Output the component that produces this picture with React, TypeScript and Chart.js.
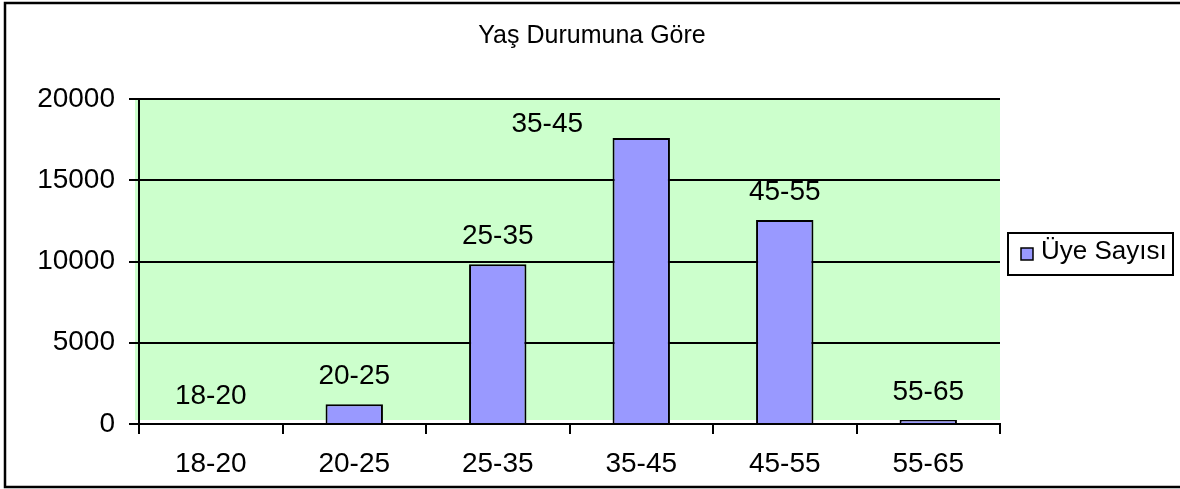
import React, { useEffect, useRef } from "react";
import { Chart, registerables } from "chart.js";

Chart.register(...registerables);

// ---- data ----
const chartTitle = "Yaş Durumuna Göre";
const seriesName = "Üye Sayısı";
const categories = ["18-20", "20-25", "25-35", "35-45", "45-55", "55-65"];
const memberCounts = [0, 1210, 9830, 17600, 12550, 250];
const yTickValues = [0, 5000, 10000, 15000, 20000];

// ---- styles ----
const FONT = "'Liberation Sans', Arial, sans-serif";
const BAR_COLOR = "#9999FF";
const PLOT_BG = "#CCFFCC";
const LABEL_NUDGE: Array<[number, number]> = [
  [0, 0],
  [0, 0],
  [0, 0],
  [-94, 14],
  [0, 0],
  [0, 0],
];

export default function App() {
  const canvasRef = useRef<HTMLCanvasElement | null>(null);

  useEffect(() => {
    const canvas = canvasRef.current;
    if (!canvas) return;

    const bgPlugin = {
      id: "plotBg",
      beforeDraw(chart: any) {
        const { ctx, chartArea: a } = chart;
        ctx.save();
        ctx.fillStyle = "#ffffff";
        ctx.fillRect(0, 0, chart.width, chart.height);
        ctx.fillStyle = PLOT_BG;
        ctx.fillRect(a.left - 4, a.top, a.right - a.left + 4, a.bottom - a.top - 4);
        ctx.restore();
      },
    };

    const overlayPlugin = {
      id: "overlay",
      afterDraw(chart: any) {
        const { ctx } = chart;
        ctx.save();
        // title
        ctx.fillStyle = "#000";
        ctx.font = `25px ${FONT}`;
        ctx.textAlign = "center";
        ctx.textBaseline = "alphabetic";
        ctx.fillText(chartTitle, 592, 43);

        // data labels (category names above bars)
        ctx.font = `28px ${FONT}`;
        const meta = chart.getDatasetMeta(0);
        meta.data.forEach((bar: any, i: number) => {
          const [dx, dy] = LABEL_NUDGE[i] || [0, 0];
          ctx.fillText(categories[i], bar.x + dx, bar.y - 20 + dy);
        });

        // legend
        ctx.lineWidth = 2;
        ctx.strokeStyle = "#000";
        ctx.strokeRect(1008, 233, 165, 42);
        ctx.fillStyle = BAR_COLOR;
        ctx.fillRect(1021, 248, 12, 12);
        ctx.lineWidth = 1.5;
        ctx.strokeRect(1021, 248, 12, 12);
        ctx.fillStyle = "#000";
        ctx.font = `26px ${FONT}`;
        ctx.textAlign = "left";
        ctx.fillText(seriesName, 1041, 259);

        // outer border
        ctx.lineWidth = 2.5;
        ctx.strokeRect(5, 3, 1185, 484);
        ctx.restore();
      },
    };

    const chart = new Chart(canvas, {
      type: "bar",
      data: {
        labels: categories,
        datasets: [
          {
            label: seriesName,
            data: memberCounts,
            backgroundColor: BAR_COLOR,
            borderColor: "#000",
            borderWidth: 2,
            categoryPercentage: 1,
            barPercentage: 0.4,
          },
        ],
      },
      options: {
        animation: false,
        responsive: false,
        devicePixelRatio: 1,
        layout: { padding: { left: 0, right: 180, top: 99, bottom: 10 } },
        plugins: {
          legend: { display: false },
          title: { display: false },
          tooltip: { enabled: false },
        },
        scales: {
          x: {
            grid: {
              display: true,
              drawOnChartArea: false,
              drawTicks: true,
              tickLength: 10,
              color: "#000",
              lineWidth: 2,
            },
            border: { display: true, color: "#000", width: 2 },
            ticks: {
              color: "#000",
              font: { family: FONT, size: 28 },
              padding: 13,
              maxRotation: 0,
            },
            afterFit(scale: any) {
              scale.height = 55;
            },
          },
          y: {
            min: 0,
            max: 20000,
            grid: {
              color: "#000",
              lineWidth: 2,
              tickLength: 10,
              drawTicks: true,
            },
            border: { display: true, color: "#000", width: 2 },
            ticks: {
              color: "#000",
              font: { family: FONT, size: 28 },
              padding: 14,
              callback: (v: any) => String(v),
            },
            afterBuildTicks(scale: any) {
              scale.ticks = yTickValues.map((v) => ({ value: v }));
            },
            afterFit(scale: any) {
              scale.width = 139;
            },
          },
        },
      },
      plugins: [bgPlugin, overlayPlugin],
    });

    return () => chart.destroy();
  }, []);

  return (
    <div style={{ position: "absolute", left: 0, top: 0, width: 1180, height: 489 }}>
      <canvas ref={canvasRef} width={1180} height={489} style={{ display: "block" }} />
    </div>
  );
}
